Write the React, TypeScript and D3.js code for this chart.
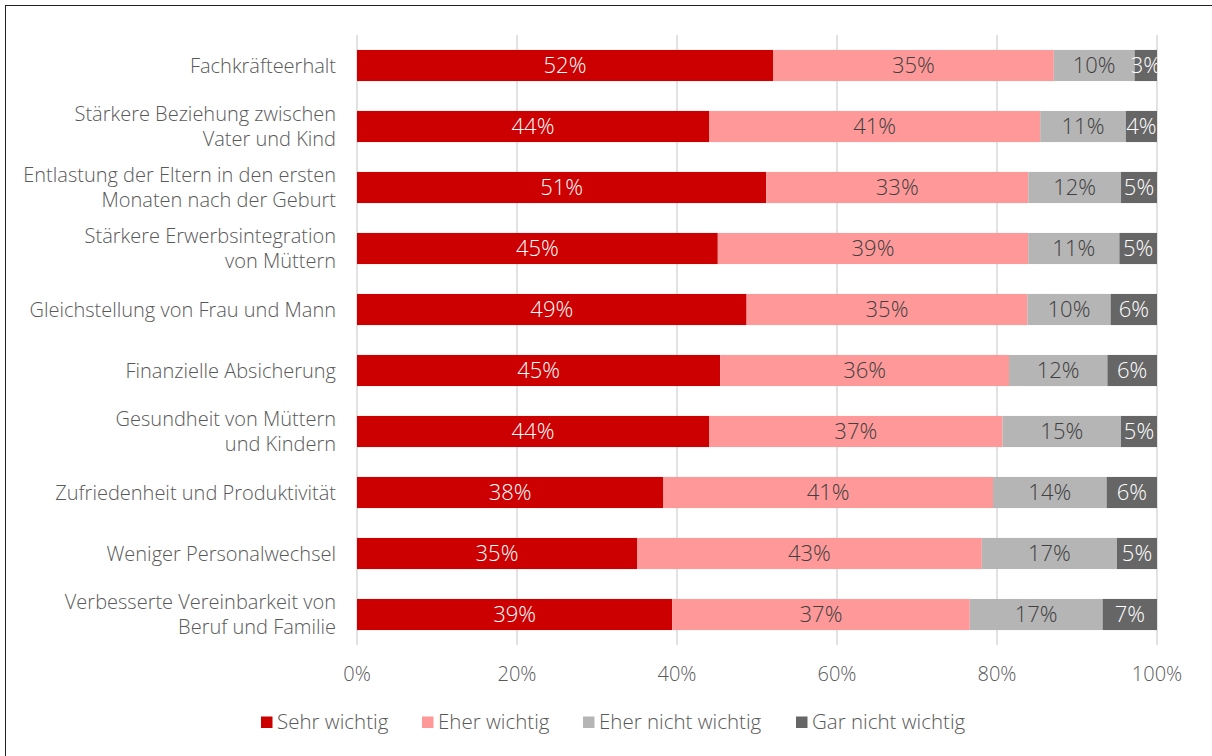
import React from 'react';
import * as d3 from 'd3';

// Categories (top to bottom), "\n" marks the line break of the axis label
const categories = [
  'Fachkräfteerhalt',
  'Stärkere Beziehung zwischen\nVater und Kind',
  'Entlastung der Eltern in den ersten\nMonaten nach der Geburt',
  'Stärkere Erwerbsintegration\nvon Müttern',
  'Gleichstellung von Frau und Mann',
  'Finanzielle Absicherung',
  'Gesundheit von Müttern\nund Kindern',
  'Zufriedenheit und Produktivität',
  'Weniger Personalwechsel',
  'Verbesserte Vereinbarkeit von\nBeruf und Familie',
];

const seriesNames = ['Sehr wichtig', 'Eher wichtig', 'Eher nicht wichtig', 'Gar nicht wichtig'];

// shares in percent
const sehrWichtig = [52.0, 44.0, 51.2, 45.1, 48.7, 45.4, 44.0, 38.3, 35.0, 39.4];
const eherWichtig = [35.1, 41.4, 32.8, 38.8, 35.1, 36.1, 36.7, 41.2, 43.1, 37.2];
const eherNichtWichtig = [10.1, 10.7, 11.6, 11.4, 10.4, 12.3, 14.8, 14.2, 16.9, 16.6];
const garNichtWichtig = [2.8, 3.9, 4.5, 4.7, 5.8, 6.2, 4.5, 6.3, 5.0, 6.8];

const xTicks = [0, 0.2, 0.4, 0.6, 0.8, 1];

const colors = ['#cc0000', '#ff9999', '#b5b5b5', '#666666'];
const labelColors = ['#ffffff', '#404040', '#404040', '#ffffff'];

const W = 1212;
const H = 756;
const FONT = '"Open Sans", "Noto Sans", sans-serif';
const TEXT = '#595959';

const App: React.FC = () => {
  const seriesValues = [sehrWichtig, eherWichtig, eherNichtWichtig, garNichtWichtig];
  const rows = categories.map((c, i) => {
    const r: Record<string, any> = { category: c };
    seriesNames.forEach((s, k) => (r[s] = seriesValues[k][i]));
    return r;
  });

  const stacked = d3
    .stack<Record<string, any>>()
    .keys(seriesNames)
    .offset(d3.stackOffsetExpand)(rows);

  const x = d3.scaleLinear().domain([0, 1]).range([357, 1157]);
  const y = d3.scaleBand().domain(categories).range([35, 645]).paddingInner(0.49).paddingOuter(0.245);
  const fmt = d3.format('.0%');

  // legend layout
  const legendX = [261, 422, 583, 796];

  return (
    <svg
      width={W}
      height={H}
      style={{ position: 'absolute', left: 0, top: 0, background: '#fff' }}
      fontFamily={FONT}
      fontWeight={300}
    >
      <defs>
        <clipPath id="plotClip">
          <rect x={x(0)} y={35} width={x(1) - x(0)} height={610} />
        </clipPath>
      </defs>
      <rect x={5.5} y={5.5} width={1220} height={770} fill="#fff" stroke="#222" strokeWidth={1} />

      {/* gridlines */}
      {xTicks.map((t) => (
        <line key={t} x1={x(t)} x2={x(t)} y1={35} y2={645} stroke="#d9d9d9" strokeWidth={1.5} />
      ))}

      {/* bars */}
      {stacked.map((layer, k) => (
        <g key={layer.key} fill={colors[k]}>
          {layer.map((d, i) => (
            <rect
              key={i}
              x={x(d[0])}
              y={y(categories[i])}
              width={x(d[1]) - x(d[0])}
              height={y.bandwidth()}
            />
          ))}
        </g>
      ))}

      {/* value labels */}
      <g clipPath="url(#plotClip)" fontSize={22} textAnchor="middle">
        {stacked.map((layer, k) =>
          layer.map((d, i) => (
            <text
              key={`${k}-${i}`}
              x={(x(d[0]) + x(d[1])) / 2}
              y={(y(categories[i]) as number) + y.bandwidth() / 2}
              dy="0.36em"
              fill={labelColors[k]}
            >
              {Math.round(seriesValues[k][i]) + '%'}
            </text>
          ))
        )}
      </g>

      {/* category labels */}
      <g fontSize={20} fill={TEXT} textAnchor="end">
        {categories.map((c) => {
          const lines = c.split('\n');
          const cy = (y(c) as number) + y.bandwidth() / 2;
          const lh = 25.5;
          return (
            <text key={c} x={336} y={cy - ((lines.length - 1) * lh) / 2} dy="0.35em">
              {lines.map((l, j) => (
                <tspan key={j} x={336} dy={j === 0 ? '0.35em' : lh}>
                  {l}
                </tspan>
              ))}
            </text>
          );
        })}
      </g>

      {/* x tick labels */}
      <g fontSize={20} fill={TEXT} textAnchor="middle">
        {xTicks.map((t) => (
          <text key={t} x={x(t)} y={674} dy="0.35em">
            {fmt(t)}
          </text>
        ))}
      </g>

      {/* legend */}
      <g fontSize={20.5} fill={TEXT}>
        {seriesNames.map((s, k) => (
          <g key={s}>
            <rect x={legendX[k]} y={716.5} width={11.5} height={11.5} fill={colors[k]} />
            <text x={legendX[k] + 16} y={722} dy="0.35em">
              {s}
            </text>
          </g>
        ))}
      </g>
    </svg>
  );
};

export default App;
